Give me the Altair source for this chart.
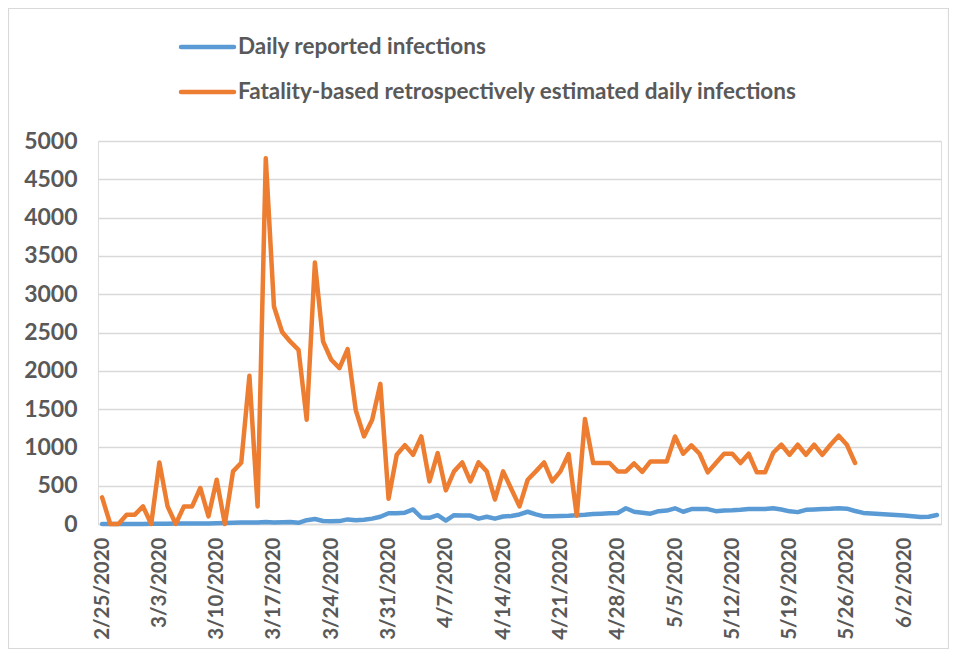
import altair as alt
import pandas as pd

start_date = "2020-02-25"

series_names = [
    "Daily reported infections",
    "Fatality-based retrospectively estimated daily infections",
]
series_colors = ["#5B9BD5", "#ED7D31"]

# Daily reported infections (2/25/2020 .. 6/6/2020)
reported = [
    0, 0, 0, 0, 0, 0, 2, 2, 3, 5, 5,
    5, 8, 8, 10, 12, 15, 20, 18, 20, 25,
    20, 22, 25, 15,
    50, 65, 40, 35, 38, 60, 50, 55, 70, 95,
    140, 140, 148, 190, 85, 80, 115, 45, 115, 110,
    110, 70, 95, 70, 98, 105, 125, 160, 125, 100,
    100, 105, 108, 115, 120, 130, 135, 140, 143, 205,
    160, 148, 135, 168, 175, 205, 160, 195, 195, 195,
    168, 175, 178, 185, 195, 195, 195, 205, 190, 165,
    155, 185, 190, 195, 198, 205, 200, 170, 145, 138,
    132, 125, 118, 110, 100, 92, 95, 118,
]

# Fatality-based retrospectively estimated daily infections (2/25/2020 .. 5/27/2020)
estimated = [
    348, 0, 0, 122, 122, 230, 0, 804, 230, 0,
    230, 230, 470, 100, 578, 0, 687, 800, 1935, 230,
    4774, 2839, 2506, 2380, 2274, 1361, 3413, 2383, 2144, 2035,
    2283, 1483, 1143, 1361, 1830, 330, 904, 1030, 904, 1143,
    556, 926, 439, 687, 804, 556, 804, 687, 320, 687,
    457, 230, 578, 687, 804, 557, 687, 913, 109, 1370,
    796, 796, 796, 687, 687, 790, 680, 817, 817, 817,
    1143, 917, 1026, 917, 674, 796, 917, 917, 796, 917,
    674, 674, 930, 1035, 904, 1035, 904, 1035, 904, 1035,
    1152, 1035, 796,
]

# x-axis tick dates (month, day) in 2020
tick_dates = [(2, 25), (3, 3), (3, 10), (3, 17), (3, 24), (3, 31), (4, 7),
              (4, 14), (4, 21), (4, 28), (5, 5), (5, 12), (5, 19), (5, 26), (6, 2)]
y_ticks = [0, 500, 1000, 1500, 2000, 2500, 3000, 3500, 4000, 4500, 5000]

df_rep = pd.DataFrame({
    "date": pd.date_range(start_date, periods=len(reported), freq="D").strftime("%Y-%m-%d"),
    "value": reported,
})
df_est = pd.DataFrame({
    "date": pd.date_range(start_date, periods=len(estimated), freq="D").strftime("%Y-%m-%d"),
    "value": estimated,
})

FONT = "Lato"
TXT = "#595959"
GRID = "#D9D9D9"

x_enc = alt.X(
    "date:T",
    scale=alt.Scale(
        type="utc",
        domain=[alt.DateTime(year=2020, month=2, date=24, hours=12, utc=True),
                alt.DateTime(year=2020, month=6, date=6, hours=12, utc=True)],
    ),
    axis=alt.Axis(
        values=[alt.DateTime(year=2020, month=m, date=d, utc=True) for m, d in tick_dates],
        labelExpr="utcFormat(datum.value, '%-m/%-d/%Y')",
        labelAngle=270,
        labelAlign="right",
        labelBaseline="middle",
        labelPadding=13,
        labelFont=FONT,
        labelFontSize=20.5,
        labelFontWeight="bold",
        labelColor=TXT,
        labelOverlap=False,
        labelBound=False,
        ticks=False,
        grid=False,
        domain=True,
        domainColor=GRID,
        domainWidth=1.5,
        title=None,
    ),
)
y_enc = alt.Y(
    "value:Q",
    scale=alt.Scale(domain=[0, 5000], nice=False),
    axis=alt.Axis(
        values=y_ticks,
        format="d",
        grid=True,
        gridColor=GRID,
        gridWidth=1.5,
        domain=False,
        ticks=False,
        labelPadding=21,
        labelFont=FONT,
        labelFontSize=23,
        labelFontWeight="bold",
        labelColor=TXT,
        title=None,
    ),
)

line_style = dict(strokeWidth=4.5, strokeCap="round", strokeJoin="round")

blue = alt.Chart(df_rep).mark_line(color=series_colors[0], **line_style).encode(x=x_enc, y=y_enc)
orange = alt.Chart(df_est).mark_line(color=series_colors[1], **line_style).encode(x=x_enc, y=y_enc)

legend_df = pd.DataFrame({"label": series_names, "color": series_colors})
leg_rows_y = [-94, -49]
legend_layers = []
for i in range(2):
    d = legend_df.iloc[[i]]
    legend_layers.append(
        alt.Chart(d).mark_rule(color=series_colors[i], strokeWidth=4.5, strokeCap="round").encode(
            x=alt.value(83), x2=alt.value(136), y=alt.value(leg_rows_y[i])
        )
    )
    legend_layers.append(
        alt.Chart(d).mark_text(align="left", baseline="middle", font=FONT, fontSize=22.5,
                               fontWeight="bold", color=TXT).encode(
            x=alt.value(140), y=alt.value(leg_rows_y[i]), text="label:N"
        )
    )

frame = alt.Chart(pd.DataFrame({"k": [0]})).mark_rect(
    fill="transparent", stroke=GRID, strokeWidth=1.2
).encode(x=alt.value(-89.5), x2=alt.value(850.5), y=alt.value(-132.5), y2=alt.value(507.5))

chart = alt.layer(frame, blue, orange, *legend_layers).properties(
    width=843,
    height=383,
    padding={"left": 90, "top": 133, "right": 8, "bottom": 125},
    autosize=alt.AutoSizeParams(type="none"),
).configure_view(stroke=None).configure(background="white")

chart.save("out.html", embed_options={"renderer": "svg", "actions": False})
